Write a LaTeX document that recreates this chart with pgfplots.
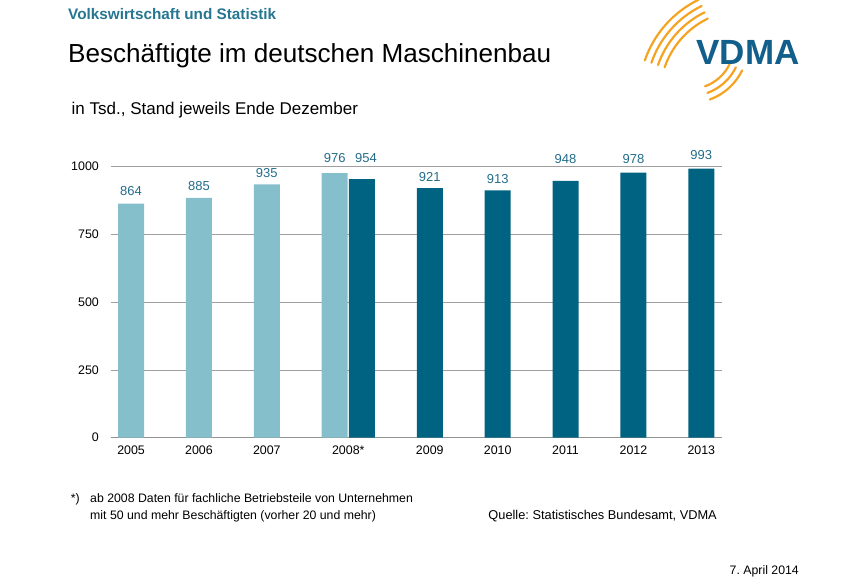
\documentclass[border=0pt]{standalone}
\usepackage{pgfplots}
\pgfplotsset{compat=1.18}
\usepackage{fontspec}
\setmainfont{Liberation Sans}
\frenchspacing
\definecolor{light}{RGB}{133,191,204}
\definecolor{dark}{RGB}{0,99,130}
\definecolor{lbl}{RGB}{35,108,138}
\definecolor{ttl}{RGB}{38,118,145}
\definecolor{vdma}{RGB}{18,95,140}
\definecolor{arc}{RGB}{244,163,35}
\begin{document}
\begin{tikzpicture}[x=1pt,y=1pt]
\path[use as bounding box] (0,0) rectangle (860,580);
% header
\node[anchor=base west, inner sep=0pt, text=ttl, font=\fontsize{15.3}{17}\selectfont\bfseries] at (68,560) {Volkswirtschaft und Statistik};
\node[anchor=base west, inner sep=0pt, font=\fontsize{26.1}{29}\selectfont] at (68,517) {Beschäftigte im deutschen Maschinenbau};
\node[anchor=base west, inner sep=0pt, font=\fontsize{17}{20}\selectfont] at (71.5,465) {in Tsd., Stand jeweils Ende Dezember};
% logo
\foreach \r in {106,99,92,85} {
  \draw[arc, line width=2.2pt, line cap=round] ([shift={(161:\r)}]745,485) arc[start angle=161, end angle=116, radius=\r];
}
\foreach \r in {58,51,44} {
  \draw[arc, line width=2.2pt, line cap=round] ([shift={(-70:\r)}]690,535) arc[start angle=-70, end angle=-26, radius=\r];
}
\node[inner sep=0pt, text=vdma, font=\fontsize{35}{38}\selectfont\bfseries] at (748,527.6) {VDMA};
% chart
\begin{axis}[
  at={(110.7pt,142.3pt)}, anchor=south west,
  scale only axis, width=611pt, height=271pt,
  xmin=-0.3, xmax=8.7, ymin=0, ymax=1000,
  clip=false,
  ytick={0,250,500,750,1000},
  yticklabels={0,250,500,750,1000},
  xtick={0,1,2,3.2,4.4,5.4,6.4,7.4,8.4},
  xticklabels={2005,2006,2007,2008*,2009,2010,2011,2012,2013},
  ymajorgrids, grid style={draw=gray!75, line width=0.8pt},
  axis x line*=bottom, axis y line*=left,
  y axis line style={draw=none},
  x axis line style={draw=gray!85, line width=1pt},
  major tick length=0pt,
  tick label style={font=\fontsize{12.4}{14}\selectfont, inner sep=0pt},
  yticklabel style={anchor=east},
  yticklabel shift=11.7pt,
  xticklabel style={anchor=north},
  xticklabel shift=8pt,
  /pgf/number format/assume math mode=true,
]
\addplot[ybar, bar width=0.383, bar shift=0pt, fill=light, draw=none]
  coordinates {(0,864) (1,885) (2,935) (3,976)};
\addplot[ybar, bar width=0.383, bar shift=0pt, fill=dark, draw=none]
  coordinates {(3.4,954) (4.4,921) (5.4,913) (6.4,948) (7.4,978) (8.4,993)};
\begin{scope}[every node/.style={inner sep=0pt, text=lbl, font=\fontsize{13}{15}\selectfont}]
\node at (axis cs:0,911) {864};
\node at (axis cs:1,927) {885};
\node at (axis cs:2,978) {935};
\node at (axis cs:3,1033) {976};
\node at (axis cs:3.46,1033) {954};
\node at (axis cs:4.4,962) {921};
\node at (axis cs:5.4,956) {913};
\node at (axis cs:6.4,1030) {948};
\node at (axis cs:7.4,1027) {978};
\node at (axis cs:8.4,1044) {993};
\end{scope}
\end{axis}
% footnotes
\begin{scope}[every node/.style={inner sep=0pt, font=\fontsize{12.3}{15}\selectfont}]
\node[anchor=base west] at (70.7,77) {*)};
\node[anchor=base west] at (90,77) {ab 2008 Daten für fachliche Betriebsteile von Unternehmen};
\node[anchor=base west] at (90,60) {mit 50 und mehr Beschäftigten (vorher 20 und mehr)};
\node[anchor=base east, font=\fontsize{12.8}{15}\selectfont] at (717,60) {Quelle: Statistisches Bundesamt, VDMA};
\node[anchor=base east] at (799,5.5) {7. April 2014};
\end{scope}
\end{tikzpicture}
\end{document}
